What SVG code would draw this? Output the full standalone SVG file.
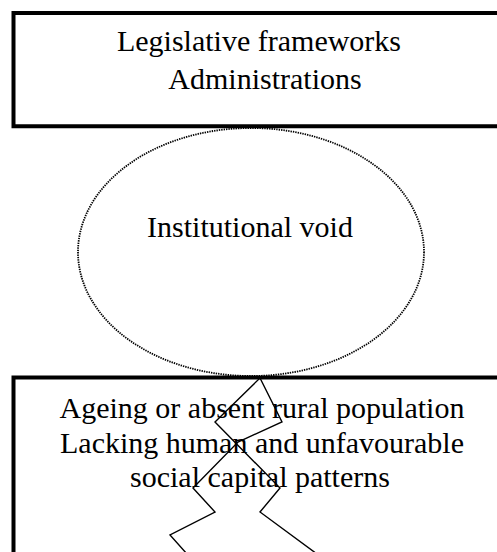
<svg xmlns="http://www.w3.org/2000/svg" width="497" height="552" viewBox="0 0 497 552">
  <style>
    .label { font-family: "Liberation Serif", "Times New Roman", serif; font-size: 30px; fill: #000; text-anchor: middle; }
    .box { fill: none; stroke: #000; stroke-width: 4; }
    .void { fill: none; stroke: #000; stroke-width: 1.8; stroke-dasharray: 1.4 1; }
    .crack { fill: none; stroke: #000; stroke-width: 1.4; stroke-linejoin: miter; }
  </style>
  <rect width="497" height="552" fill="#fff"/>

  <!-- upper layer: open on the right edge -->
  <g id="legislative">
    <path class="box" d="M500,13 H13.5 V126.3 H500"/>
    <text class="label" x="259" y="51">Legislative frameworks</text>
    <text class="label" x="265" y="89">Administrations</text>
  </g>

  <!-- middle: dotted ellipse -->
  <g id="void">
    <ellipse class="void" cx="251" cy="252" rx="173" ry="124"/>
    <text class="label" x="250" y="237">Institutional void</text>
  </g>

  <!-- lower layer: open on the right and bottom -->
  <g id="rural">
    <path class="box" d="M500,377.5 H13.5 V556"/>
    <text class="label" x="262" y="418">Ageing or absent rural population</text>
    <text class="label" x="262" y="453">Lacking human and unfavourable</text>
    <text class="label" x="260" y="487">social capital patterns</text>
  </g>

  <!-- zigzag crack running down from the ellipse -->
  <g id="connectors">
    <polyline class="crack" points="260,378 215,422 280,488 260,512 317,554"/>
    <polyline class="crack" points="260,378 282,422 238,442 193,488 215,512 170,535 187,554"/>
  </g>
</svg>
